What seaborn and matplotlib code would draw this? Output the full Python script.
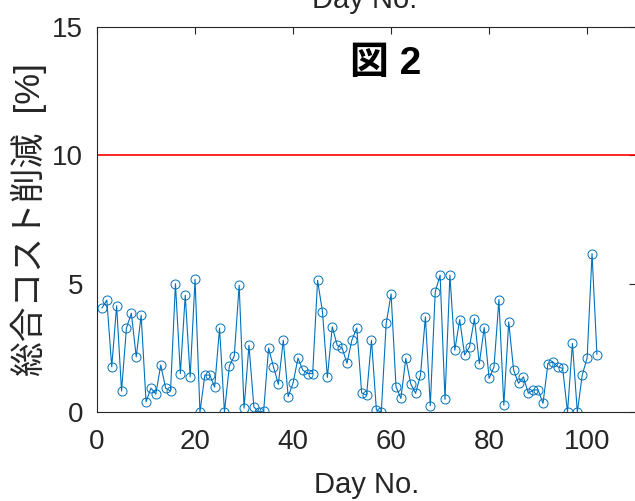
import numpy as np
import pandas as pd
import matplotlib
matplotlib.use('Agg')
import matplotlib.pyplot as plt
import seaborn as sns

# daily total cost reduction [%], days 1..102
days = list(range(1, 103))
reduction = [
    4.05, 4.36, 1.76, 4.14, 0.82, 3.27, 3.85, 2.15, 3.77, 0.40,
    0.93, 0.70, 1.83, 0.93, 0.82, 5.00, 1.50, 4.55, 1.37, 5.17,
    0.00, 1.44, 1.44, 0.97, 3.27, 0.00, 1.79, 2.18, 4.94, 0.15,
    2.60, 0.20, 0.00, 0.04, 2.49, 1.76, 1.08, 2.80, 0.60, 1.13,
    2.10, 1.63, 1.50, 1.50, 5.13, 3.90, 1.35, 3.32, 2.60, 2.50,
    1.90, 2.80, 3.27, 0.74, 0.66, 2.80, 0.08, 0.00, 3.45, 4.60,
    0.99, 0.53, 2.09, 1.10, 0.73, 1.44, 3.71, 0.25, 4.68, 5.33,
    0.49, 5.33, 2.41, 3.60, 2.22, 2.54, 3.64, 1.89, 3.29, 1.31,
    1.76, 4.38, 0.27, 3.51, 1.63, 1.12, 1.37, 0.73, 0.86, 0.86,
    0.34, 1.89, 1.96, 1.76, 1.70, 0.00, 2.67, 0.00, 1.44, 2.11,
    6.17, 2.24,
]
target = 10
x_ticks = [0, 20, 40, 60, 80, 100]
y_ticks = [0, 5, 10, 15]

df = pd.DataFrame({'Day': days, 'Reduction': reduction})

sns.set_style('white')
plt.rcParams['font.family'] = ['Liberation Sans', 'Noto Sans CJK JP', 'DejaVu Sans']

blue = '#0072BD'
fig = plt.figure(figsize=(6.35, 5.01), dpi=100)
ax = fig.add_axes([0.1528, 0.1776, 0.849, 0.7685])

sns.lineplot(x='Day', y='Reduction', data=df, ax=ax, color=blue, lw=0.8,
             marker='o', markersize=6.5, markerfacecolor='none',
             markeredgecolor=blue, markeredgewidth=0.7)
ax.axhline(target, color='red', lw=1.2)

ax.set_xlim(0, 110)
ax.set_ylim(0, 15)
ax.set_xticks(x_ticks)
ax.set_yticks(y_ticks)
ax.tick_params(direction='in', length=5, width=0.8, labelsize=20,
               top=True, right=True, colors='#262626')
ax.tick_params(axis='x', pad=12)
ax.tick_params(axis='y', pad=10)
for s in ax.spines.values():
    s.set_color('#262626')
    s.set_linewidth(0.8)

ax.set_xlabel('Day No.', fontsize=21, color='#262626', labelpad=12)
ax.set_ylabel('総合コスト削減  [%]', fontsize=25, color='#262626', labelpad=4)
ax.text(0.535, 0.905, '図 2', transform=ax.transAxes, ha='center', va='center',
        fontsize=28, fontweight='bold', color='black')

# xlabel of the panel above, clipped at the top edge
fig.text(365 / 635, 1 - 8 / 501, 'Day No.', ha='center', va='baseline',
         fontsize=21, color='#262626')

fig.savefig('out.png', dpi=100, facecolor='white')
